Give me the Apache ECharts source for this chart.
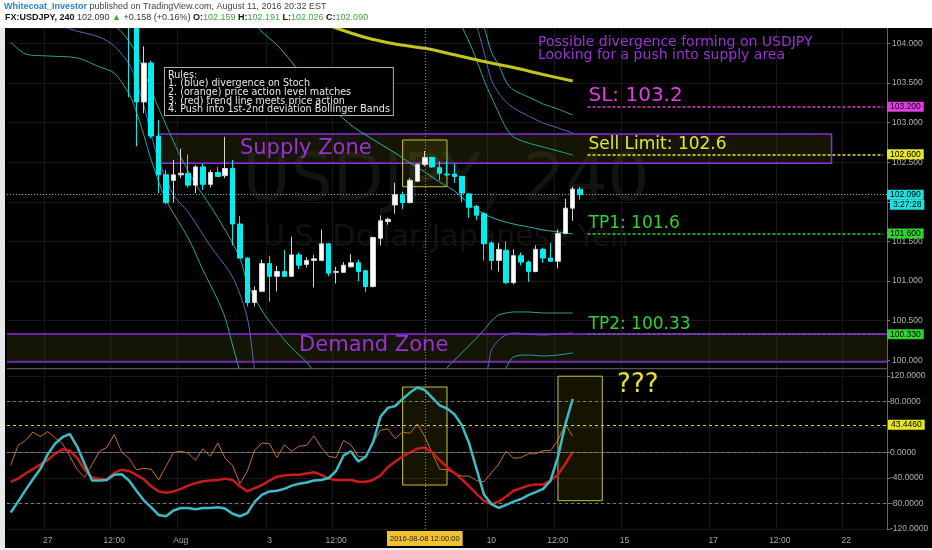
<!DOCTYPE html>
<html><head><meta charset="utf-8">
<script src="https://cdn.jsdelivr.net/npm/echarts@6/dist/echarts.min.js"></script>
<style>html,body{margin:0;padding:0;background:#fff;}#c{width:932px;height:550px;}</style>
</head><body><div id="c"></div>
<script>
// ---------- data ----------
const tradingDays = ['2016-07-26','2016-07-27','2016-07-28','2016-07-29','2016-08-01','2016-08-02','2016-08-03','2016-08-04','2016-08-05','2016-08-08','2016-08-09','2016-08-10','2016-08-11','2016-08-12','2016-08-15','2016-08-16','2016-08-17','2016-08-18','2016-08-19','2016-08-22'];
const barHours = ['00:00','04:00','08:00','12:00','16:00','20:00'];
const firstBar = '2016-07-26 04:00';
const xTickLabels = {
  '2016-07-27 00:00':'27','2016-07-28 12:00':'12:00','2016-08-01 00:00':'Aug','2016-08-03 00:00':'3',
  '2016-08-04 12:00':'12:00','2016-08-10 00:00':'10','2016-08-11 12:00':'12:00','2016-08-15 00:00':'15',
  '2016-08-17 00:00':'17','2016-08-18 12:00':'12:00','2016-08-22 00:00':'22'
};
// candles [open, close, low, high], first visible bar = 2016-07-28 20:00
const firstCandle = '2016-07-28 20:00';
const candleOHLC = [
 [104.55,104.30,103.32,104.70],[104.35,103.26,102.70,104.40],[103.26,103.75,103.12,103.96],[103.75,102.83,102.80,103.78],
 [102.83,102.34,102.11,103.03],[102.34,101.99,101.97,102.40],[102.27,102.34,101.99,102.53],[102.34,102.36,102.30,102.67],
 [102.36,102.21,102.18,102.60],[102.21,102.44,102.11,102.46],[102.44,102.22,102.15,102.48],[102.22,102.37,102.18,102.40],
 [102.37,102.32,102.31,102.44],[102.33,102.42,102.30,102.82],[102.42,101.72,101.45,102.53],[101.72,101.29,101.29,101.82],
 [101.29,100.73,100.68,101.30],[100.73,100.88,100.68,100.93],[100.87,101.22,100.86,101.27],[101.22,101.06,100.74,101.32],
 [101.06,101.12,100.87,101.19],[101.12,101.06,101.05,101.39],[101.06,101.33,101.05,101.56],[101.33,101.20,101.15,101.36],
 [101.21,101.26,101.17,101.30],[101.26,101.28,100.92,101.33],[101.26,101.47,101.25,101.65],[101.47,101.10,101.06,101.48],
 [101.11,101.12,100.97,101.18],[101.11,101.20,101.10,101.24],[101.18,101.23,101.17,101.34],[101.23,101.12,101.00,101.27],
 [101.13,100.93,100.86,101.14],[100.93,101.55,100.92,101.56],[101.54,101.76,101.45,101.83],[101.75,101.78,101.71,101.80],
 [101.96,102.09,101.85,102.24],[102.09,101.99,101.91,102.13],[101.99,102.27,101.98,102.30],[102.26,102.47,102.25,102.48],
 [102.47,102.56,102.45,102.64],[102.56,102.44,102.43,102.57],[102.43,102.36,102.27,102.51],[102.35,102.34,102.32,102.51],
 [102.35,102.32,102.24,102.48],[102.32,102.11,102.00,102.32],[102.10,101.93,101.80,102.11],[101.94,101.83,101.77,101.96],
 [101.85,101.47,101.26,101.87],[101.48,101.26,101.14,101.50],[101.26,101.40,101.12,101.48],[101.39,100.98,100.96,101.50],
 [100.98,101.32,100.96,101.40],[101.32,101.24,101.20,101.36],[101.24,101.12,100.99,101.26],[101.12,101.40,101.11,101.45],
 [101.40,101.29,101.23,101.42],[101.29,101.25,101.24,101.48],[101.25,101.60,101.16,101.65],[101.60,101.92,101.59,102.04],
 [101.92,102.16,101.76,102.19],[102.159,102.090,102.026,102.191]
];
// bands / averages: [bar number, price]
const bbUpperOuter = [[62,104.673],[63,104.420],[64,104.206],[65,103.890],[66,103.726],[67,103.512],[68,103.411],[70,103.323],[72,103.234],[74,103.171],[76,103.095]];
const bbUpperMid = [[62,104.546],[63,104.231],[64,103.890],[65,103.537],[66,103.373],[67,103.259],[68,103.184],[70,103.083],[72,102.995],[74,102.932],[76,102.869]];
const bbUpperInner = [[60,104.483],[61,104.218],[62,104.016],[63,103.789],[64,103.537],[65,103.323],[66,103.121],[67,102.932],[68,102.818],[70,102.742],[72,102.692],[74,102.641],[76,102.591]];
const bbBasis = [[32,104.357],[34,104.143],[36,103.979],[38,103.764],[40,103.512],[42,103.297],[44,103.133],[46,102.969],[48,102.843],[50,102.729],[52,102.616],[54,102.490],[56,102.376],[58,102.250],[60,102.137],[62,101.973],[64,101.847],[66,101.771],[68,101.720],[70,101.683],[72,101.645],[74,101.620],[76,101.595]];
const bbLowerInner = [[12,104.357],[15,104.143],[17,103.865],[20,103.184],[23,102.565],[25,102.225],[27,101.947],[29,101.644],[31,101.291],[32,100.975],[34,100.622],[36,100.370],[38,100.156],[40,99.979],[41,99.853],[42,99.69],[58,99.75],[59,99.904],[61,100.093],[63,100.282],[64,100.383],[65,100.496],[66,100.572],[67,100.597],[68,100.610],[70,100.610],[72,100.597],[74,100.597],[76,100.597]];
const bbLowerMid = [[6,104.294],[7,104.244],[8,104.180],[12,104.079],[14,103.966],[16,103.739],[17,103.512],[18,103.221],[19,102.843],[20,102.527],[22,102.086],[24,101.871],[27,101.442],[30,101.051],[32,100.534],[33,99.878],[34,99.5],[64,99.853],[65,100.130],[66,100.256],[67,100.319],[68,100.345],[70,100.332],[72,100.319],[74,100.332],[76,100.345]];
const bbLowerOuter = [[0,104.016],[2,103.865],[5,103.840],[9,103.815],[12,103.701],[14,103.625],[16,103.360],[17,103.133],[18,102.843],[19,102.527],[21,102.023],[24,101.543],[26,101.140],[28,100.761],[29,100.534],[30,100.193],[31,99.853],[32,99.50],[66,99.69],[67,99.904],[68,100.042],[70,100.067],[72,100.055],[74,100.067],[76,100.093]];
const slowMA = [[42,104.269],[44,104.193],[48,104.073],[52,103.991],[56,103.937],[60,103.856],[64,103.770],[68,103.694],[72,103.606],[76,103.524]];
// oscillator pane
const stochK = [-94,-77,-59,-42,-26,-3,14,24,29,9,-18,-44,-44,-43,-35,-34,-44,-60,-75,-86,-98,-100,-91,-87,-87,-89,-87,-87,-86,-88,-96,-100,-95,-77,-66,-61,-60,-57,-52,-49,-47,-44,-43,-40,-29,-5,2,-14,-7,16,56,70,73,84,94,102,98,86,74,69,60,43,14,-26,-66,-81,-87,-82,-77,-73,-67,-62,-57,-44,-7,44,84];
const stochD = [-46,-41,-33,-26,-19,-12,-2,5,3,-9,-27,-39,-41,-42,-32,-27,-29,-35,-42,-53,-61,-63,-61,-57,-52,-48,-45,-44,-43,-41,-43,-53,-61,-56,-51,-44,-38,-36,-35,-35,-33,-31,-35,-41,-43,-43,-43,-46,-46,-43,-36,-23,-14,-6,0,6,8,0,-12,-23,-32,-42,-53,-65,-76,-81,-77,-69,-60,-56,-52,-50,-50,-44,-35,-18,1];
const priceLine = [-20,11,19,32,25,33,23,14,-6,-27,-39,-19,2,8,28,1,-9,-27,-25,-26,-43,-22,0,2,-1,-12,6,-6,15,-9,-20,-49,-29,4,15,14,-8,12,2,10,11,26,8,-6,-8,19,12,-6,-7,16,35,37,22,32,30,45,25,-1,-26,-27,-33,-37,-37,-44,-46,-32,-18,2,-9,-8,-2,-2,3,3,19,45,25];
const oscLevels = [80, 0, -80];
const oscMarker = 43.446;
// trade plan
const lastPrice = 102.090, countdown = '3:27:28';
const levels = [
  {name:'SL: 103.2', value:103.2, color:'#e03ee0', tag:'103.200', size:20},
  {name:'Sell Limit: 102.6', value:102.6, color:'#e6e62e', tag:'102.600', size:17},
  {name:'TP1: 101.6', value:101.6, color:'#2fd22f', tag:'101.600', size:17},
  {name:'TP2: 100.33', value:100.33, color:'#2fd22f', tag:'100.330', size:17}
];
const levelFrom = '2016-08-12 04:00', levelTo = '2016-08-22 20:00';
const supplyZone = {from:'2016-07-29 12:00', to:'2016-08-19 16:00', top:102.855, bottom:102.486, label:'Supply Zone', labelAt:['2016-08-02 08:00',102.67]};
const demandZone = {top:100.33, bottom:99.98, label:'Demand Zone', labelAt:['2016-08-03 16:00',100.18]};
const focusBox = {from:'2016-08-08 00:00', to:'2016-08-09 00:00', top:102.78, bottom:102.19, oscTop:102.7, oscBottom:-51};
const nowBox = {from:'2016-08-11 12:00', to:'2016-08-12 12:00', oscTop:119.7, oscBottom:-75.6};
const crosshair = '2016-08-08 12:00';
const question = {at:['2016-08-12 20:00',106], text:'???'};

// ---------- build ----------
const categories = [];
tradingDays.forEach(d => barHours.forEach(h => { const c = d + ' ' + h; if (c >= firstBar) categories.push(c); }));
const c0 = categories.indexOf(firstCandle);
const candleData = categories.map((c, i) => (i >= c0 && i - c0 < candleOHLC.length) ? candleOHLC[i - c0] : ['-','-','-','-']);

const FONT = '"DejaVu Sans", Verdana, sans-serif';
const SANS = '"Liberation Sans", Arial, sans-serif';
const showTick = (i, v) => xTickLabels[v] !== undefined;
const gridLine = '#171717';
const hidden = {color:'rgba(0,0,0,0)', width:1, type:'solid'};

function bandSeries(data, color, width, z) {
  return {type:'line', xAxisIndex:0, yAxisIndex:0, data, showSymbol:false, symbol:'none', connectNulls:true,
    smooth:0.3, clip:true, z: z || 2, silent:true, lineStyle:{color, width: width || 1}};
}
const tag = (text, bg, extra) => Object.assign({show:true, position:'end', formatter:text, backgroundColor:bg,
  color:'#000', fontSize:8.5, fontFamily:SANS, padding:[1,3,0,3], distance:0}, extra || {});

const mainMarkLines = [];
levels.forEach(l => {
  mainMarkLines.push([
    {coord:[levelFrom, l.value], lineStyle:{color:l.color, type:[3,2], width:1.5},
     label:{show:true, position:'insideStartTop', formatter:l.name, color:l.color, fontSize:l.size, fontFamily:FONT, distance:[1,1]}},
    {coord:[levelTo, l.value]}
  ]);
});
mainMarkLines.push({yAxis:lastPrice, lineStyle:{color:'#2ad0d0', type:[1,2], width:1}, label:tag(lastPrice.toFixed(3), '#22e0e0')});
mainMarkLines.push({xAxis:crosshair, lineStyle:{color:'#c08a20', type:[1,2], width:1}, label:{show:false}});
levels.forEach(l => mainMarkLines.push({yAxis:l.value, lineStyle:hidden, label:tag(l.tag, l.color)}));
mainMarkLines.push({yAxis:lastPrice, lineStyle:hidden, label:tag(countdown, '#22e0e0', {offset:[3,10]})});
mainMarkLines.push({yAxis:demandZone.top, lineStyle:{color:'#8a2be2', width:1.5, type:'solid'}, label:{show:false}});
mainMarkLines.push({yAxis:demandZone.bottom, lineStyle:{color:'#8a2be2', width:1.5, type:'solid'}, label:{show:false}});

const zoneStyle = {color:'rgba(70,70,20,0.30)', borderColor:'#8a2be2', borderWidth:1.5};
const boxStyle = {color:'rgba(200,200,0,0.10)', borderColor:'#c4c43a', borderWidth:1};

const option = {
  backgroundColor:'#000',
  animation:false,
  textStyle:{fontFamily:FONT},
  grid:[{left:7, top:28, width:880, height:340}, {left:7, top:369, width:880, height:160}],
  xAxis:[
    {type:'category', gridIndex:0, data:categories, boundaryGap:true,
     axisLine:{show:true, lineStyle:{color:'#555'}}, axisTick:{show:false}, axisLabel:{show:false},
     splitLine:{show:true, interval:showTick, lineStyle:{color:gridLine}}},
    {type:'category', gridIndex:1, data:categories, boundaryGap:true,
     axisLine:{show:true, lineStyle:{color:'#555'}}, axisTick:{show:false},
     axisLabel:{interval:showTick, formatter:v => xTickLabels[v], color:'#a8a8a8', fontSize:8.5, margin:7, fontFamily:SANS},
     splitLine:{show:true, interval:showTick, lineStyle:{color:gridLine}}}
  ],
  yAxis:[
    {type:'value', gridIndex:0, position:'right', min:99.903, max:104.193, splitNumber:8,
     axisLine:{show:true, lineStyle:{color:'#666'}}, axisTick:{show:true, length:3, lineStyle:{color:'#777'}},
     axisLabel:{formatter:v => v.toFixed(3), showMinLabel:false, showMaxLabel:false, color:'#b0b0b0', fontSize:8.5, margin:5, fontFamily:SANS},
     splitLine:{show:true, lineStyle:{color:gridLine}}},
    {type:'value', gridIndex:1, position:'right', min:-120, max:131, interval:40,
     axisLine:{show:true, lineStyle:{color:'#666'}}, axisTick:{show:true, length:3, lineStyle:{color:'#777'}},
     axisLabel:{formatter:v => v.toFixed(4), showMaxLabel:false, color:'#b0b0b0', fontSize:8.5, margin:3, fontFamily:SANS},
     splitLine:{show:true, lineStyle:{color:gridLine}}}
  ],
  graphic:[
    {type:'rect', shape:{x:0,y:0,width:932,height:28}, style:{fill:'#ffffff'}, z:50},
    {type:'rect', shape:{x:0,y:28,width:5,height:522}, style:{fill:'#e6e8ea'}, z:50},
    {type:'rect', shape:{x:0,y:548,width:932,height:2}, style:{fill:'#eef0f2'}, z:50},
    {type:'text', x:4, y:7, z:51, style:{text:'{a|Whitecoat_Investor}{b| published on TradingView.com, August 11, 2016 20:32 EST}',
      verticalAlign:'middle', font:'9px ' + SANS,
      rich:{a:{fill:'#2a86c8', fontWeight:'bold', fontSize:9}, b:{fill:'#444', fontSize:9}}}},
    {type:'text', x:5, y:18, z:51, style:{text:'{k|FX:USDJPY, 240} {n|102.090} {g|▲} {n|+0.158 (+0.16%)} {k|O:}{g|102.159} {k|H:}{g|102.191} {k|L:}{g|102.026} {k|C:}{g|102.090}',
      verticalAlign:'middle', font:'9px ' + SANS,
      rich:{k:{fill:'#111', fontWeight:'bold', fontSize:9}, n:{fill:'#333', fontSize:9}, g:{fill:'#3aa83a', fontSize:9}}}},
    {type:'text', x:446, y:183, z:0, silent:true, style:{text:'USDJPY, 240', fill:'#131313', font:'66px "DejaVu Sans", sans-serif', align:'center', verticalAlign:'middle'}},
    {type:'text', x:446, y:238, z:0, silent:true, style:{text:'U.S. Dollar/Japanese Yen', fill:'#121212', font:'30px "DejaVu Sans", sans-serif', align:'center', verticalAlign:'middle'}},
    {type:'text', x:538, y:36, z:10, style:{text:'Possible divergence forming on USDJPY\nLooking for a push into supply area', fill:'#9a32d4', font:'14px "DejaVu Sans", sans-serif', lineHeight:12.8}},
    {type:'text', x:165, y:68, z:10, style:{text:'Rules:\n1. (blue) divergence on Stoch\n2. (orange) price action level matches\n3. (red) trend line meets price action\n4. Push into 1st-2nd deviation Bollinger Bands',
      fill:'#e8e8e8', font:'9.6px "DejaVu Sans", sans-serif', lineHeight:8.6, backgroundColor:'#000', borderColor:'#b0b0b0', borderWidth:1, padding:[3,3,1,3]}}
  ],
  series:[
    {type:'line', xAxisIndex:0, yAxisIndex:0, data:[], z:1, silent:true,
     markArea:{silent:true, data:[
       [{coord:[supplyZone.from, supplyZone.top], itemStyle:zoneStyle}, {coord:[supplyZone.to, supplyZone.bottom]}],
       [{yAxis:demandZone.top, itemStyle:{color:'rgba(70,70,20,0.30)', borderWidth:0}}, {yAxis:demandZone.bottom}],
       [{coord:[focusBox.from, focusBox.top], itemStyle:boxStyle}, {coord:[focusBox.to, focusBox.bottom]}]
     ]},
     markLine:{silent:true, symbol:['none','none'], data:mainMarkLines},
     markPoint:{silent:true, symbol:'circle', symbolSize:0, data:[
       {coord:supplyZone.labelAt, label:{show:true, position:'right', distance:0, formatter:supplyZone.label, color:'#9b30d6', fontSize:21, fontFamily:FONT}},
       {coord:demandZone.labelAt, label:{show:true, position:'right', distance:0, formatter:demandZone.label, color:'#9b30d6', fontSize:21, fontFamily:FONT}}
     ]}},
    bandSeries(bbLowerOuter, '#22a69c'),
    bandSeries(bbLowerMid, '#5068bc'),
    bandSeries(bbLowerInner, '#22a69c'),
    bandSeries(bbUpperOuter, '#22a69c'),
    bandSeries(bbUpperMid, '#5068bc'),
    bandSeries(bbUpperInner, '#22a69c'),
    bandSeries(bbBasis, '#2cb4b0'),
    bandSeries(slowMA, '#c4c41c', 3),
    {type:'candlestick', xAxisIndex:0, yAxisIndex:0, data:candleData, barWidth:5, z:5, clip:true,
     itemStyle:{color:'#ffffff', color0:'#00eeee', borderColor:'#d4d4d4', borderColor0:'#00eeee', borderWidth:1}},
    // oscillator pane
    {type:'line', xAxisIndex:1, yAxisIndex:1, data:[], z:1, silent:true,
     markArea:{silent:true, data:[
       [{coord:[focusBox.from, focusBox.oscTop], itemStyle:boxStyle}, {coord:[focusBox.to, focusBox.oscBottom]}],
       [{coord:[nowBox.from, nowBox.oscTop], itemStyle:boxStyle}, {coord:[nowBox.to, nowBox.oscBottom]}]
     ]},
     markLine:{silent:true, symbol:['none','none'], data:[
       ...oscLevels.map(v => ({yAxis:v, lineStyle:{color:'#7a7a7a', type:[3,3], width:1}, label:{show:false}})),
       {yAxis:oscMarker, lineStyle:{color:'#d8d820', type:[3,3], width:1}, label:tag(oscMarker.toFixed(4), '#e6e620', {distance:1})},
       {xAxis:crosshair, lineStyle:{color:'#c08a20', type:[1,2], width:1},
        label:{show:true, position:'start', formatter:'2016-08-08 12:00:00', backgroundColor:'#f0c232', color:'#222', fontSize:7.5, padding:[4,3,3,3], distance:2, fontFamily:SANS}}
     ]},
     markPoint:{silent:true, symbol:'circle', symbolSize:0, data:[
       {coord:question.at, label:{show:true, position:'right', distance:0, formatter:question.text, color:'#e8e030', fontSize:26, fontFamily:FONT}}
     ]}},
    {type:'line', xAxisIndex:1, yAxisIndex:1, data:priceLine, showSymbol:false, symbol:'none', z:2, lineStyle:{color:'#c8701e', width:1}},
    {type:'line', xAxisIndex:1, yAxisIndex:1, data:stochD, showSymbol:false, symbol:'none', z:3, lineStyle:{color:'#cc1a1a', width:2.5}},
    {type:'line', xAxisIndex:1, yAxisIndex:1, data:stochK, showSymbol:false, symbol:'none', z:4, lineStyle:{color:'#3cbcc4', width:2.5}}
  ]
};
const chart = echarts.init(document.getElementById('c'));
chart.setOption(option);
</script></body></html>
